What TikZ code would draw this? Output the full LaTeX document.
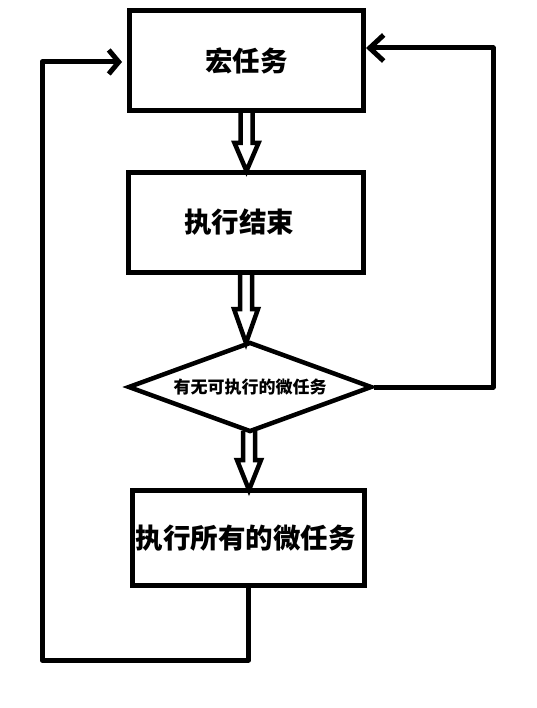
\documentclass[tikz,border=0pt]{standalone}
\usepackage{fontspec}
\newfontfamily\cjk{Noto Sans CJK SC}
\usetikzlibrary{shapes.geometric,arrows.meta,calc}
\tikzset{
  stepbox/.style={draw, line width=5pt, inner sep=0pt, font=\cjk\bfseries\fontsize{27.5}{30}\selectfont},
  decide/.style={draw, diamond, aspect=2.71, line width=4.5pt, inner sep=0pt, font=\cjk\bfseries\fontsize{17}{19}\selectfont},
  fat/.style={draw, line width=4.5pt, line join=miter},
  loopline/.style={draw, line width=5pt, line join=round},
}
\newcommand\fatarrow[3]{%
  \draw[fat] let \p1=(#1), \p2=(#2) in
    (\x1-6pt,\y1) -- (\x1-6pt,\y2+#3) -- (\x1-12pt,\y2+#3) -- (\x1,\y2)
    -- (\x1+12pt,\y2+#3) -- (\x1+6pt,\y2+#3) -- (\x1+6pt,\y1);}
\begin{document}
\begin{tikzpicture}[x=1pt,y=-1pt]
\useasboundingbox[fill=white] (0,0) rectangle (536,708);
\node[stepbox, minimum width=234pt, minimum height=100pt] (b1) at (246.5,60.5) {宏任务};
\node[stepbox, minimum width=235pt, minimum height=100pt] (b2) at (246,222.5) {\hspace*{-14pt}执行结束};
\node[decide, minimum width=244pt, minimum height=90pt] (d) at (250,387) {有无可执行的微任务};
\node[stepbox, minimum width=232pt, minimum height=95pt] (b4) at (248.5,538) {\hspace*{-6pt}执行所有的微任务};
\coordinate (a1) at (246.5,112);
\coordinate (t1) at (246.5,171);
\coordinate (a2) at (246,274);
\coordinate (t2) at (248,343);
\coordinate (a3) at (249,431);
\coordinate (t3) at (249,490);
\fatarrow{a1}{t1}{28pt}
\fatarrow{a2}{t2}{34pt}
\fatarrow{a3}{t3}{30pt}
\coordinate (rc) at (493,48);
\coordinate (bl) at (42,660);
\draw[loopline, -{Straight Barb[length=14pt,width=26pt,line width=5pt]}]
  (d.east) -| (rc) -- ([yshift=12.5pt]b1.east);
\draw[loopline, -{Straight Barb[length=10pt,width=24pt,line width=5pt]}, shorten >=5pt]
  (b4.south) |- (bl) |- ([yshift=-1.5pt]b1.west);
\end{tikzpicture}
\end{document}
